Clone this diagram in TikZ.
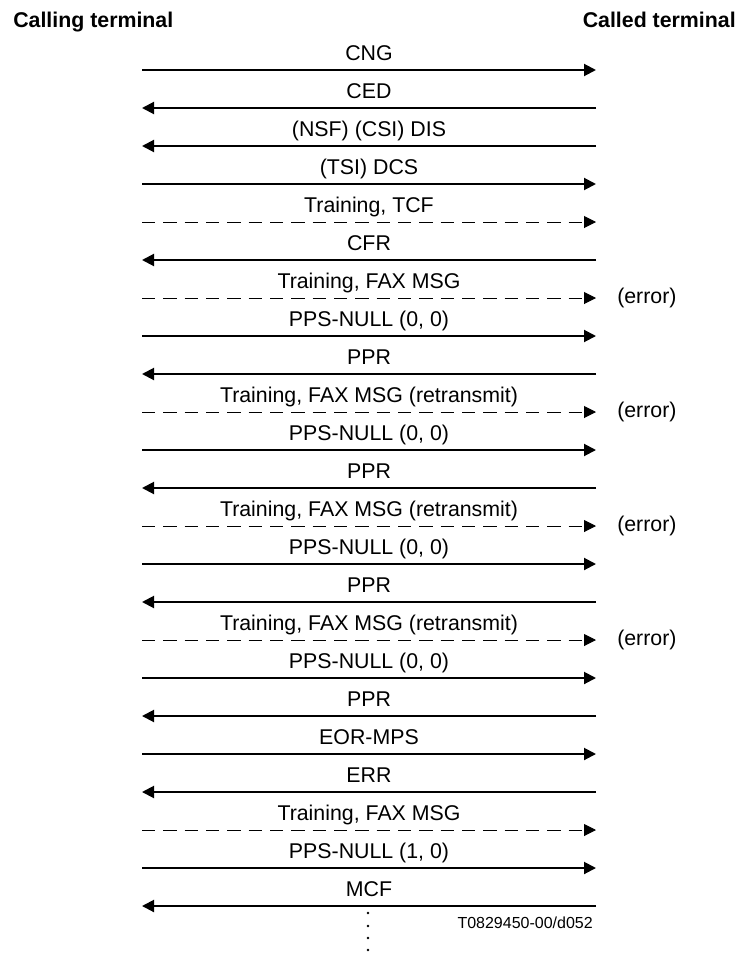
\documentclass[tikz,border=0pt]{standalone}
\usepackage{fontspec}
\setmainfont{Liberation Sans}
\usetikzlibrary{arrows.meta}

\begin{document}
\begin{tikzpicture}[x=0.75pt, y=-0.75pt,
    sig/.style={line width=1.5pt, -{Triangle[length=9pt, width=9pt]}},
    train/.style={line width=0.75pt, dash pattern=on 10pt off 6pt,
                  -{Triangle[length=9pt, width=9pt]}},
    lbl/.style={font=\fontsize{16}{18}\selectfont, inner sep=0pt, anchor=base},
    head/.style={font=\fontsize{16}{18}\selectfont\bfseries, inner sep=0pt}]
\useasboundingbox (0,0) rectangle (737,953);
% Terminals
\node[head, anchor=base west] (calling) at (13,27) {Calling terminal};
\node[head, anchor=base east] (called) at (736,27) {Called terminal};
% Messages: row / label / from / to / style
\foreach \i/\lab/\from/\to/\kind in {
    1/CNG/L/R/sig, 2/CED/R/L/sig, 3/(NSF) (CSI) DIS/R/L/sig,
    4/(TSI) DCS/L/R/sig, 5/{Training, TCF}/L/R/train, 6/CFR/R/L/sig,
    7/{Training, FAX MSG}/L/R/train, 8/{PPS-NULL (0, 0)}/L/R/sig,
    9/PPR/R/L/sig, 10/{Training, FAX MSG (retransmit)}/L/R/train,
    11/{PPS-NULL (0, 0)}/L/R/sig, 12/PPR/R/L/sig,
    13/{Training, FAX MSG (retransmit)}/L/R/train,
    14/{PPS-NULL (0, 0)}/L/R/sig, 15/PPR/R/L/sig,
    16/{Training, FAX MSG (retransmit)}/L/R/train,
    17/{PPS-NULL (0, 0)}/L/R/sig, 18/PPR/R/L/sig,
    19/EOR-MPS/L/R/sig, 20/ERR/R/L/sig,
    21/{Training, FAX MSG}/L/R/train, 22/{PPS-NULL (1, 0)}/L/R/sig,
    23/MCF/R/L/sig}{
    \coordinate (L\i) at (142,32+38*\i);
    \coordinate (R\i) at (596,32+38*\i);
    \draw[\kind] (\from\i) -- (\to\i);
    \node[lbl] (msg\i) at (369,22+38*\i) {\lab};
}
% Errors on the called side
\foreach \i in {7,10,13,16}{
    \node[font=\fontsize{16}{18}\selectfont, inner sep=0pt, anchor=west]
        (err\i) at (617,32+38*\i) {(error)};
}
% Continuation
\foreach \y in {913,926,938,950}{
    \fill (368,\y) circle[radius=1.1pt];
}
\node[font=\fontsize{12}{14}\selectfont, inner sep=0pt, anchor=base east]
    (ref) at (593,928) {T0829450-00/d052};
\end{tikzpicture}
\end{document}
